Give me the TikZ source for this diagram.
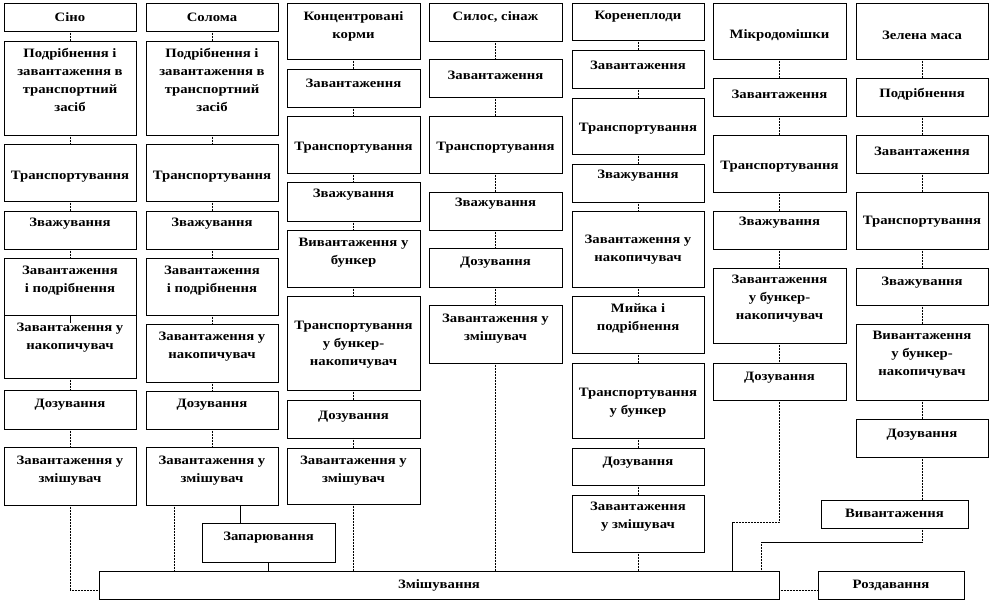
\documentclass[tikz,border=0pt]{standalone}
\usepackage{fontspec}
\setmainfont{Liberation Serif}[FakeStretch=1.15]
\newcommand\bx[7]{%
  \node[box, minimum width={(#4)*1pt-(#2)*1pt}, minimum height={(#5)*1pt-(#3)*1pt}] (#1) at ({(#2+#4)/2},{(#3+#5)/2}) {};
  \node[lbl] (#1t) at ({(#2+#4)/2},#6) {#7};}
\begin{document}
\begin{tikzpicture}[x=1pt,y=-1pt,
  box/.style={draw, line width=0.8pt, inner sep=0pt, outer sep=0pt, fill=white},
  lbl/.style={font=\fontsize{12.8}{18}\selectfont\bfseries, align=center, inner sep=0pt},
  conn/.style={line width=0.9pt, dash pattern=on 0.8pt off 0.7pt},
  connS/.style={line width=0.8pt}]
\useasboundingbox[fill=white] (0,0) rectangle (991,603);
% column 1
\bx{a1}{4}{3}{136}{31}{17}{Сіно}
\bx{a2}{4}{41}{136}{135}{80}{Подрібнення і\\завантаження в\\транспортний\\засіб}
\bx{a3}{4}{144}{136}{201}{177}{Транспортування}
\bx{a4}{4}{211}{136}{249}{224}{Зважування}
\bx{a5}{4}{258}{136}{315}{281}{Завантаження\\і подрібнення}
\bx{a6}{4}{315}{136}{378}{337.5}{Завантаження у\\накопичувач}
\bx{a7}{4}{390}{136}{429}{405}{Дозування}
\bx{a8}{4}{447}{136}{505}{471}{Завантаження у\\змішувач}
% column 2
\bx{b1}{146}{3}{278}{31}{17}{Солома}
\bx{b2}{146}{41}{278}{135}{80}{Подрібнення і\\завантаження в\\транспортний\\засіб}
\bx{b3}{146}{144}{278}{201}{177}{Транспортування}
\bx{b4}{146}{211}{278}{249}{224}{Зважування}
\bx{b5}{146}{258}{278}{315}{281}{Завантаження\\і подрібнення}
\bx{b6}{146}{324}{278}{382}{347}{Завантаження у\\накопичувач}
\bx{b7}{146}{391}{278}{429}{405}{Дозування}
\bx{b8}{146}{447}{278}{505}{471}{Завантаження у\\змішувач}
% column 3
\bx{c1}{287}{3}{420}{59}{26}{Концентровані\\корми}
\bx{c2}{287}{69}{420}{107}{83}{Завантаження}
\bx{c3}{287}{116}{420}{173}{148}{Транспортування}
\bx{c4}{287}{182}{420}{221}{195}{Зважування}
\bx{c5}{287}{230}{420}{287}{252.5}{Вивантаження у\\бункер}
\bx{c6}{287}{296}{420}{390}{344.5}{Транспортування\\у бункер-\\накопичувач}
\bx{c7}{287}{400}{420}{438}{417}{Дозування}
\bx{c8}{287}{448}{420}{504}{471}{Завантаження у\\змішувач}
% column 4
\bx{d1}{429}{3}{562}{41}{17}{Силос, сінаж}
\bx{d2}{429}{59}{562}{97}{75}{Завантаження}
\bx{d3}{429}{116}{562}{173}{148}{Транспортування}
\bx{d4}{429}{192}{562}{230}{204}{Зважування}
\bx{d5}{429}{248}{562}{287}{263}{Дозування}
\bx{d6}{429}{305}{562}{363}{328.5}{Завантаження у\\змішувач}
% column 5
\bx{e1}{572}{3}{704}{40}{17}{Коренеплоди}
\bx{e2}{572}{50}{704}{88}{65}{Завантаження}
\bx{e3}{572}{98}{704}{154}{129}{Транспортування}
\bx{e4}{572}{164}{704}{202}{176}{Зважування}
\bx{e5}{572}{211}{704}{287}{250}{Завантаження у\\накопичувач}
\bx{e6}{572}{296}{704}{353}{318.5}{Мийка і\\подрібнення}
\bx{e7}{572}{363}{704}{438}{402.5}{Транспортування\\у бункер}
\bx{e8}{572}{448}{704}{485}{463}{Дозування}
\bx{e9}{572}{495}{704}{552}{517}{Завантаження\\у змішувач}
% column 6
\bx{f1}{713}{3}{846}{59}{35}{Мікродомішки}
\bx{f2}{713}{78}{846}{116}{94}{Завантаження}
\bx{f3}{713}{135}{846}{192}{167}{Транспортування}
\bx{f4}{713}{211}{846}{249}{223}{Зважування}
\bx{f5}{713}{268}{846}{343}{299}{Завантаження\\у бункер-\\накопичувач}
\bx{f6}{713}{363}{846}{400}{378}{Дозування}
% column 7
\bx{g1}{856}{3}{988}{59}{35}{Зелена маса}
\bx{g2}{856}{78}{988}{116}{94}{Подрібнення}
\bx{g3}{856}{135}{988}{173}{151}{Завантаження}
\bx{g4}{856}{192}{988}{249}{222}{Транспортування}
\bx{g5}{856}{268}{988}{305}{283}{Зважування}
\bx{g6}{856}{324}{988}{400}{355}{Вивантаження\\у бункер-\\накопичувач}
\bx{g7}{856}{419}{988}{457}{435}{Дозування}
% others
\bx{v}{821}{500}{968}{528}{513}{Вивантаження}
\bx{z}{202}{523}{335}{562}{538}{Запарювання}
\bx{m}{99}{571}{779}{599}{585}{Змішування}
\bx{r}{818}{571}{964}{599}{585}{Роздавання}
% chains
\foreach \c/\n in {a/7,b/7,c/7,d/5,e/8,f/5,g/6}{
  \foreach \i in {1,...,\n}{
    \pgfmathtruncatemacro\j{\i+1}
    \draw[conn] (\c\i.south) -- (\c\j.north);
  }}
\draw[connS] (a5.south) -- ++(0,8);
% to mixer
\draw[conn] (a8.south) |- ([yshift=-5pt]m.west);
\draw[conn] ([xshift=-38pt]b8.south) -- ([xshift=-38pt]b8.south |- m.north);
\draw[connS] ([xshift=28pt]b8.south) -- ([xshift=28pt]b8.south |- z.north);
\draw[connS] (z.south) -- (z.south |- m.north);
\draw[conn] (c8.south) -- (c8.south |- m.north);
\draw[conn] (d6.south) -- (d6.south |- m.north);
\draw[conn] (e9.south) -- (e9.south |- m.north);
\coordinate (fA) at (779.5,522);
\coordinate (fB) at (732,522);
\draw[conn] (f6.south) -- (fA) -- (fB);
\draw[connS] (fB) -- (fB |- m.north);
\draw[conn] (g7.south) -- (g7.south |- v.north);
\coordinate (gA) at (922,542);
\coordinate (gB) at (761,542);
\draw[conn] (gA |- v.south) -- (gA);
\draw[connS] (gA) -- (gB);
\draw[conn] (gB) -- (gB |- m.north);
\draw[conn] ([yshift=-5pt]m.east) -- ([yshift=-5pt]r.west);
\end{tikzpicture}
\end{document}
